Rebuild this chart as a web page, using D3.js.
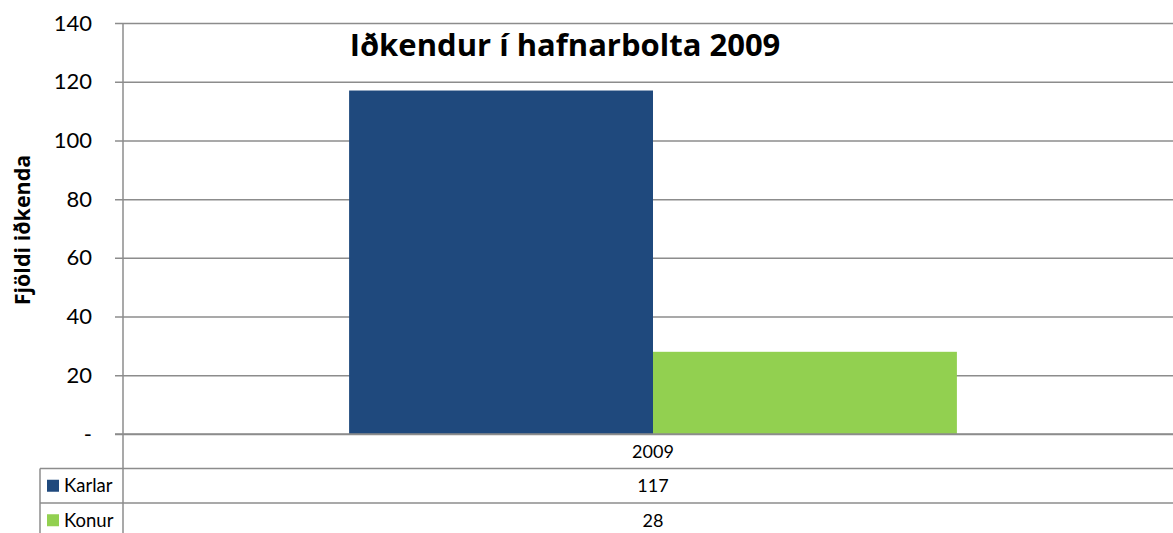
<!DOCTYPE html>
<html>
<head>
<meta charset="utf-8">
<script src="https://cdn.jsdelivr.net/npm/d3@7"></script>
<style>
  html, body { margin: 0; padding: 0; background: #fff; }
  svg { display: block; font-family: Lato, "Noto Sans", sans-serif; }
</style>
</head>
<body>
<svg id="chart" width="1173" height="533"></svg>
<script>
// Participants in baseball, 2009
const categories = ["2009"];
const seriesNames = ["Karlar", "Konur"];
const karlar = [117];
const konur = [28];
const yTicks = [0, 20, 40, 60, 80, 100, 120, 140];
const colors = ["#1f497d", "#92d050"];
const titleText = "Iðkendur í hafnarbolta 2009";
const yAxisTitle = "Fjöldi iðkenda";

(function draw() {
  const values = [karlar, konur];
  const svg = d3.select("#chart");
  const W = 1173, H = 533;
  const plotLeft = 123, plotRight = 1183, plotTop = 23, base = 434;
  const gridColor = "#8c8c8c";

  const y = d3.scaleLinear().domain([0, 140]).range([base, plotTop]);
  const x = d3.scaleBand().domain(categories).range([plotLeft, plotRight]).paddingInner(0).paddingOuter(0.372);
  const xs = d3.scaleBand().domain(seriesNames).range([0, x.bandwidth()]).padding(0);

  // gridlines + ticks
  const yAxis = d3.axisLeft(y).tickValues(yTicks).tickSize(-(plotRight - plotLeft)).tickSizeOuter(0)
    .tickFormat(d => d === 0 ? "-" : d);
  const gy = svg.append("g").attr("transform", `translate(${plotLeft},0)`).call(yAxis);
  gy.select(".domain").remove();
  gy.selectAll(".tick line").attr("stroke", gridColor).attr("stroke-width", 1.5)
    .attr("x1", -8);
  gy.selectAll(".tick text").attr("x", -31).attr("fill", "#000")
    .style("font-size", "22px").style("font-family", "Lato, sans-serif");

  // bars
  categories.forEach((c, ci) => {
    seriesNames.forEach((s, si) => {
      svg.append("rect")
        .attr("x", x(c) + xs(s))
        .attr("y", y(values[si][ci]))
        .attr("width", xs.bandwidth())
        .attr("height", y(0) - y(values[si][ci]))
        .attr("fill", colors[si]);
    });
  });

  // baseline drawn over the bars
  svg.append("line").attr("x1", plotLeft - 8).attr("x2", W).attr("y1", y(0)).attr("y2", y(0))
    .attr("stroke", gridColor).attr("stroke-width", 1.5);

  // vertical axis line
  svg.append("line").attr("x1", plotLeft).attr("x2", plotLeft).attr("y1", plotTop).attr("y2", H)
    .attr("stroke", gridColor).attr("stroke-width", 1.5);

  // data table below the axis
  const rowH = 34.5;
  const tableLeft = 40;
  const row1 = base + rowH;
  const row2 = row1 + rowH;
  [row1, row2].forEach(yy => {
    svg.append("line").attr("x1", tableLeft).attr("x2", W).attr("y1", yy).attr("y2", yy)
      .attr("stroke", gridColor).attr("stroke-width", 1.5);
  });
  svg.append("line").attr("x1", tableLeft).attr("x2", tableLeft).attr("y1", row1).attr("y2", H)
    .attr("stroke", gridColor).attr("stroke-width", 1.5);

  const cx = x(categories[0]) + x.bandwidth() / 2;
  svg.append("text").attr("x", cx).attr("y", base + rowH / 2).attr("dy", "0.35em")
    .attr("text-anchor", "middle").style("font-size", "18px").text(categories[0]);

  seriesNames.forEach((s, si) => {
    const rowTop = row1 + si * rowH;
    const mid = rowTop + rowH / 2;
    svg.append("rect").attr("x", 47).attr("y", mid - 6).attr("width", 12).attr("height", 12)
      .attr("fill", colors[si]);
    svg.append("text").attr("x", 64).attr("y", mid).attr("dy", "0.35em")
      .style("font-size", "18.5px").text(s);
    categories.forEach((c, ci) => {
      svg.append("text").attr("x", x(c) + x.bandwidth() / 2).attr("y", mid).attr("dy", "0.35em")
        .attr("text-anchor", "middle").style("font-size", "18px").text(values[si][ci]);
    });
  });

  // title
  svg.append("text").attr("x", 565).attr("y", 56).attr("text-anchor", "middle")
    .style("font-family", "'Open Sans', sans-serif")
    .style("font-size", "31px").style("font-weight", "bold").text(titleText);

  // y-axis title
  svg.append("text").attr("transform", `translate(30,230) rotate(-90)`)
    .attr("text-anchor", "middle")
    .style("font-family", "'Open Sans', sans-serif")
    .style("font-size", "21.5px").style("font-weight", "bold")
    .text(yAxisTitle);
})();
</script>
</body>
</html>
